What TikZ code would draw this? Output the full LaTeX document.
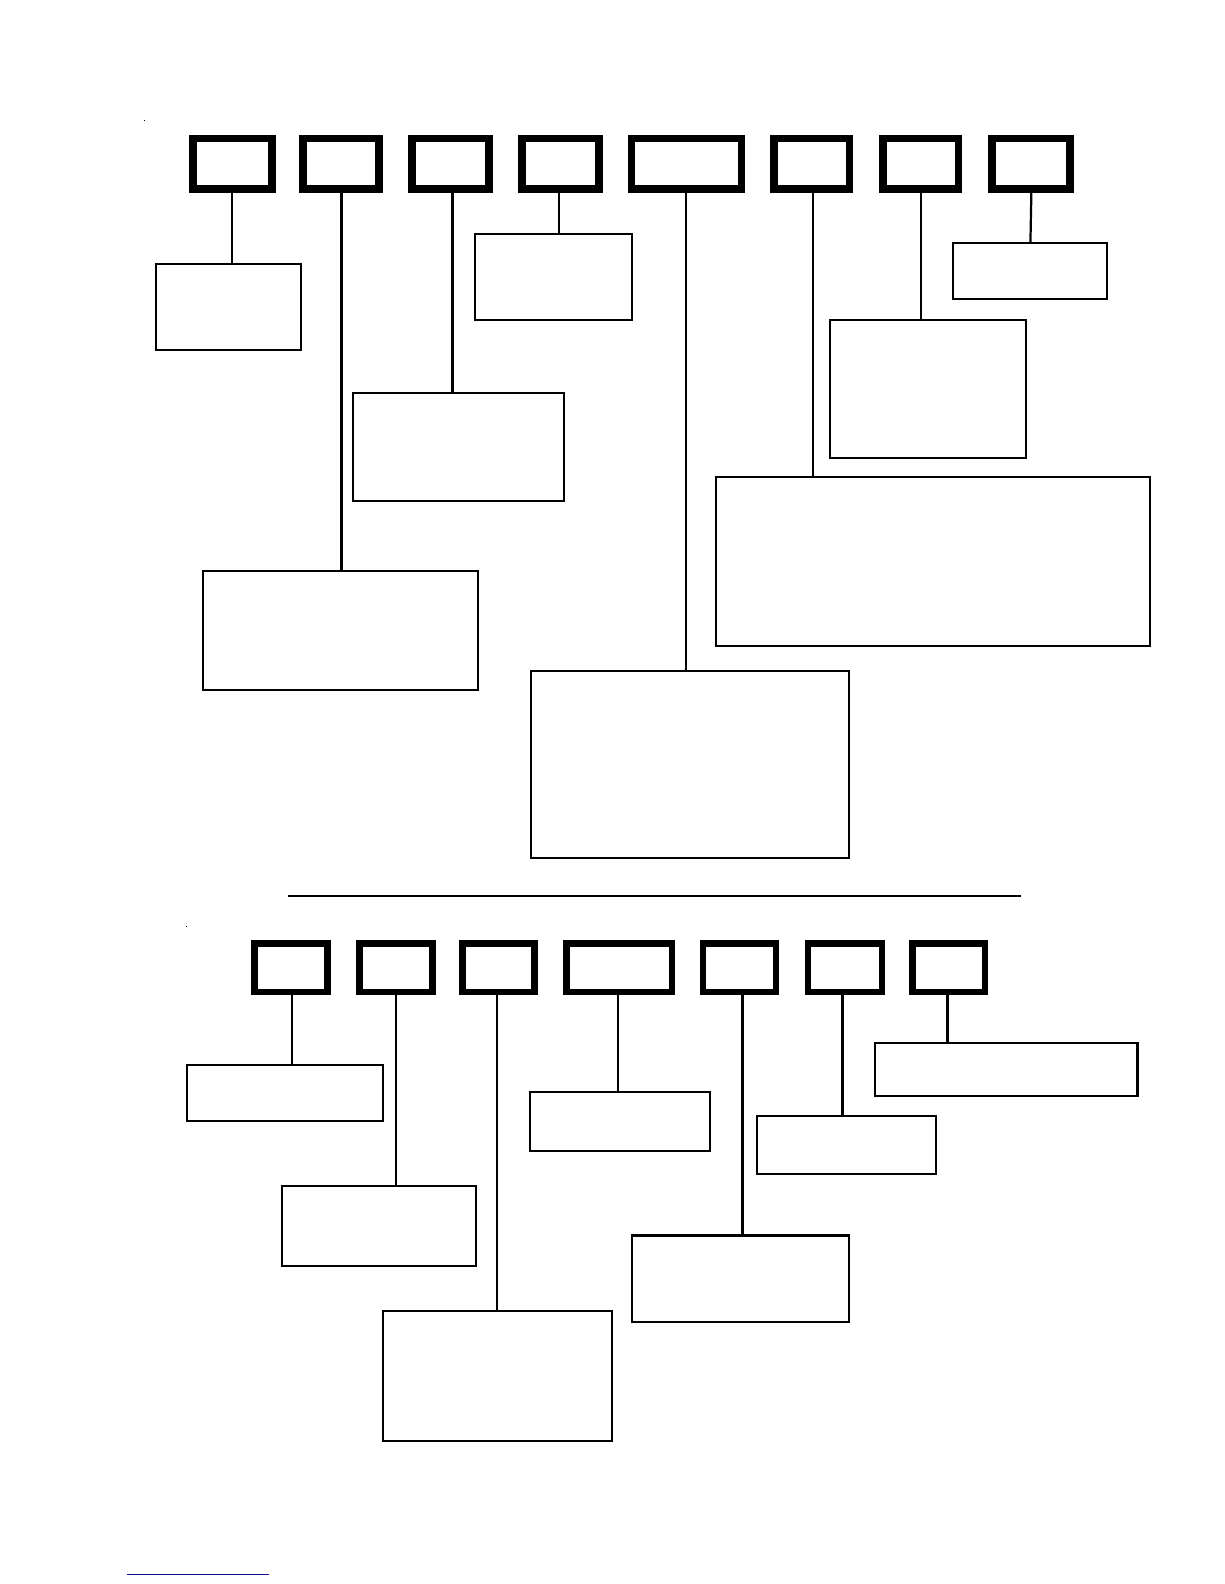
\documentclass[tikz,border=0pt]{standalone}
\begin{document}
\begin{tikzpicture}[x=1pt,y=-1pt,
  hbox/.style={draw=black,line width=7.5pt,inner sep=0pt,outer sep=0pt,fill=white},
  kbox/.style={draw=black,line width=6.5pt,inner sep=0pt,outer sep=0pt,fill=white},
  lbox/.style={draw=black,line width=2pt,inner sep=0pt,outer sep=0pt,fill=white},
  conn/.style={draw=black,line width=2.2pt},
  dotmark/.style={fill=black,inner sep=0pt,minimum size=1.5pt}]
\useasboundingbox[fill=white] (0,0) rectangle (1211.7,1568);
% top header boxes
\node[hbox,minimum width=78pt,minimum height=50pt] (b1) at (230,162) {};
\node[hbox,minimum width=75pt,minimum height=50pt] (b2) at (337.5,162) {};
\node[hbox,minimum width=76pt,minimum height=50pt] (b3) at (446,162) {};
\node[hbox,minimum width=76pt,minimum height=50pt] (b4) at (555,162) {};
\node[hbox,minimum width=109pt,minimum height=50pt] (b5) at (679.5,162) {};
\node[hbox,minimum width=75pt,minimum height=50pt] (b6) at (803.5,162) {};
\node[hbox,minimum width=75pt,minimum height=50pt] (b7) at (911.5,162) {};
\node[hbox,minimum width=77pt,minimum height=50pt] (b8) at (1020.5,162) {};
% top detail boxes
\node[lbox,minimum width=144pt,minimum height=85pt] (a1) at (226,303.5) {};
\node[lbox,minimum width=272pt,minimum height=118pt] (a2) at (337,624) {};
\node[lbox,minimum width=209pt,minimum height=107pt] (a3) at (453.5,442.5) {};
\node[lbox,minimum width=156pt,minimum height=85pt] (a4) at (548,274.5) {};
\node[lbox,minimum width=314pt,minimum height=185pt] (a5) at (683,756.5) {};
\node[lbox,minimum width=429pt,minimum height=167pt] (a6) at (923.5,555.5) {};
\node[lbox,minimum width=194pt,minimum height=136pt] (a7) at (919,385) {};
\node[lbox,minimum width=153pt,minimum height=55pt] (a8) at (1019.5,268.5) {};
% top connectors
\draw[conn] (b1.south) -- (b1.south |- a1.north);
\draw[conn] ([xshift=0.5pt]b2.south) -- ([xshift=0.5pt]b2.south |- a2.north);
\draw[conn] ([xshift=2pt]b3.south) -- ([xshift=2pt]b3.south |- a3.north);
\draw[conn] ([xshift=-2pt]b4.south) -- ([xshift=-2pt]b4.south |- a4.north);
\draw[conn] ([xshift=-0.5pt]b5.south) -- ([xshift=-0.5pt]b5.south |- a5.north);
\draw[conn] ([xshift=1.5pt]b6.south) -- ([xshift=1.5pt]b6.south |- a6.north);
\draw[conn] ([xshift=0.5pt]b7.south) -- ([xshift=0.5pt]b7.south |- a7.north);
\draw[conn] ([xshift=0.5pt]b8.south) -- ([xshift=-0.5pt]b8.south |- a8.north);
% separator
\coordinate (s1) at (285,887);
\coordinate (s2) at (1011,887);
\draw[line width=2pt] (s1) -- (s2);
% small marks
\node[dotmark] (m1) at (143,119.5) {};
\node[dotmark] (m2) at (184.5,917) {};
% bottom header boxes
\node[kbox,minimum width=72pt,minimum height=48pt] (c1) at (288,958) {};
\node[kbox,minimum width=72pt,minimum height=48pt] (c2) at (392,958) {};
\node[kbox,minimum width=71pt,minimum height=48pt] (c3) at (493.5,958) {};
\node[kbox,minimum width=104pt,minimum height=48pt] (c4) at (613,958) {};
\node[kbox,minimum width=72pt,minimum height=48pt] (c5) at (732,958) {};
\node[kbox,minimum width=73pt,minimum height=48pt] (c6) at (836.5,958) {};
\node[kbox,minimum width=72pt,minimum height=48pt] (c7) at (939,958) {};
% bottom detail boxes
\node[lbox,minimum width=194pt,minimum height=56pt] (d1) at (282,1082) {};
\node[lbox,minimum width=192pt,minimum height=79pt] (d2) at (375,1213.5) {};
\node[lbox,minimum width=227pt,minimum height=128pt] (d3) at (492.5,1362) {};
\node[lbox,minimum width=178pt,minimum height=58pt] (d4) at (614,1110) {};
\node[lbox,minimum width=214pt,minimum height=86pt] (d5) at (733,1266) {};
\node[lbox,minimum width=178pt,minimum height=57pt] (d6) at (838,1133.5) {};
\node[lbox,minimum width=260pt,minimum height=53pt] (d7) at (996,1058.5) {};
% bottom connectors
\draw[conn] ([xshift=1pt]c1.south) -- ([xshift=1pt]c1.south |- d1.north);
\draw[conn] (c2.south) -- (c2.south |- d2.north);
\draw[conn] ([xshift=-1.5pt]c3.south) -- ([xshift=-1.5pt]c3.south |- d3.north);
\draw[conn] ([xshift=-1pt]c4.south) -- ([xshift=-1pt]c4.south |- d4.north);
\draw[conn] ([xshift=3pt]c5.south) -- ([xshift=3pt]c5.south |- d5.north);
\draw[conn] ([xshift=-2.5pt]c6.south) -- ([xshift=-2.5pt]c6.south |- d6.north);
\draw[conn] ([xshift=-1pt]c7.south) -- ([xshift=-1pt]c7.south |- d7.north);
% footnote rule
\coordinate (f1) at (126,1558.5);
\coordinate (f2) at (266,1558.5);
\draw[line width=1.5pt,color={rgb,255:red,20;green,20;blue,140}] (f1) -- (f2);
\end{tikzpicture}
\end{document}
